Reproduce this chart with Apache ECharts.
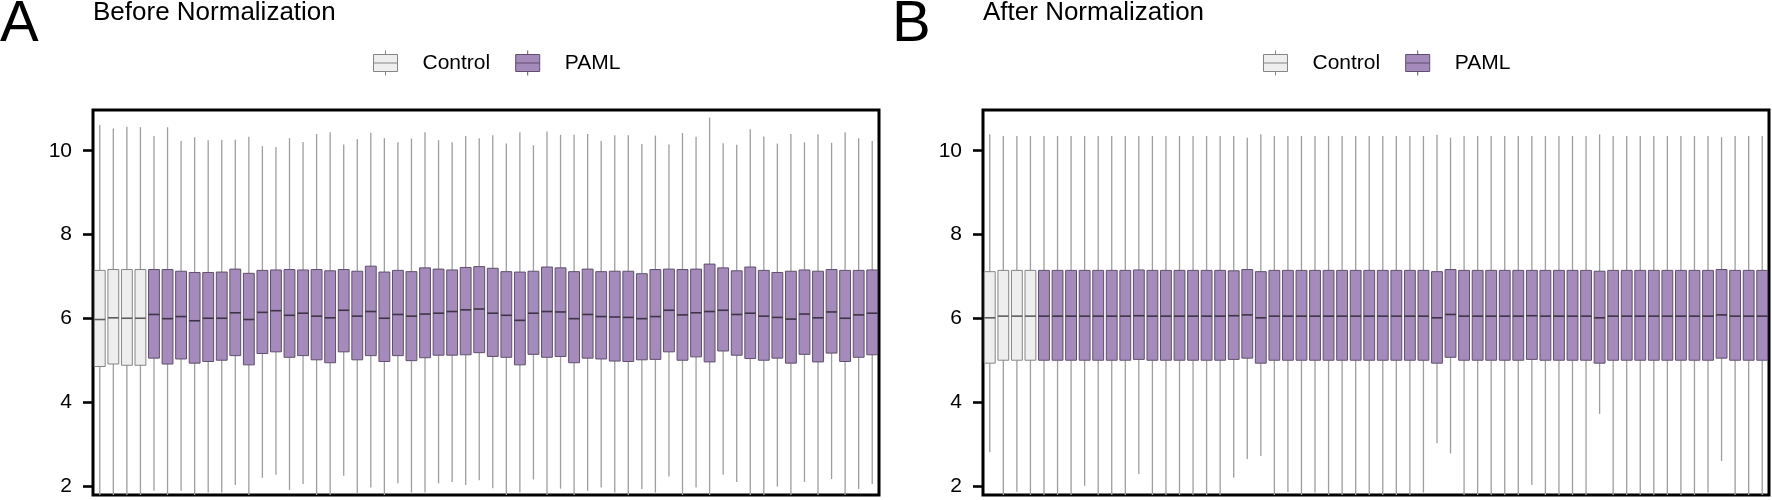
<!DOCTYPE html>
<html>
<head>
<meta charset="utf-8">
<script src="https://cdn.jsdelivr.net/npm/echarts/dist/echarts.min.js"></script>
<style>
html,body{margin:0;padding:0;background:#fff;}
#chart{width:1772px;height:500px;}
</style>
</head>
<body>
<div id="chart"></div>
<script>
// ---------- data ----------
const categories = [
  'C1','C2','C3','C4',
  'P1','P2','P3','P4','P5','P6','P7','P8','P9','P10',
  'P11','P12','P13','P14','P15','P16','P17','P18','P19','P20',
  'P21','P22','P23','P24','P25','P26','P27','P28','P29','P30',
  'P31','P32','P33','P34','P35','P36','P37','P38','P39','P40',
  'P41','P42','P43','P44','P45','P46','P47','P48','P49','P50',
  'P51','P52','P53','P54'
];
const groups = ['Control','Control','Control','Control',
  'PAML','PAML','PAML','PAML','PAML','PAML','PAML','PAML','PAML','PAML',
  'PAML','PAML','PAML','PAML','PAML','PAML','PAML','PAML','PAML','PAML',
  'PAML','PAML','PAML','PAML','PAML','PAML','PAML','PAML','PAML','PAML',
  'PAML','PAML','PAML','PAML','PAML','PAML','PAML','PAML','PAML','PAML',
  'PAML','PAML','PAML','PAML','PAML','PAML','PAML','PAML','PAML','PAML',
  'PAML','PAML','PAML','PAML'];
const yTicks = [2, 4, 6, 8, 10];

// Before normalization
const beforeHigh = [10.61,10.53,10.57,10.56,10.35,10.56,10.23,10.32,10.25,10.26,
  10.26,10.33,10.11,10.09,10.30,10.21,10.40,10.44,10.15,10.28,
  10.43,10.30,10.20,10.29,10.44,10.25,10.20,10.35,10.30,10.37,
  10.17,10.44,10.13,10.46,10.38,10.38,10.40,10.23,10.37,10.37,
  10.16,10.36,10.15,10.42,10.33,10.79,10.18,10.14,10.51,10.34,
  10.17,10.40,10.20,10.39,10.19,10.44,10.30,10.23];
const beforeQ3 = [7.15,7.17,7.17,7.17,7.17,7.17,7.13,7.10,7.10,7.11,
  7.18,7.08,7.15,7.16,7.17,7.16,7.17,7.14,7.17,7.13,
  7.25,7.11,7.15,7.12,7.21,7.18,7.16,7.22,7.24,7.20,
  7.12,7.11,7.13,7.23,7.21,7.12,7.18,7.12,7.13,7.13,
  7.07,7.17,7.18,7.17,7.18,7.30,7.21,7.14,7.23,7.15,
  7.10,7.13,7.16,7.13,7.17,7.15,7.15,7.16];
const beforeMed = [5.98,6.02,6.01,6.01,6.10,6.00,6.05,5.95,6.01,6.01,
  6.14,5.98,6.15,6.19,6.08,6.13,6.06,6.02,6.20,6.06,
  6.17,6.01,6.10,6.06,6.11,6.13,6.17,6.21,6.23,6.13,
  6.08,5.96,6.13,6.17,6.16,6.00,6.10,6.05,6.04,6.03,
  6.00,6.05,6.20,6.09,6.14,6.17,6.20,6.10,6.13,6.06,
  6.03,5.99,6.11,6.02,6.16,6.01,6.09,6.13];
const beforeQ1 = [4.86,4.92,4.89,4.89,5.06,4.92,5.04,4.94,4.98,5.01,
  5.12,4.90,5.17,5.21,5.08,5.12,5.02,4.95,5.21,5.02,
  5.12,4.98,5.12,5.00,5.07,5.13,5.13,5.14,5.19,5.10,
  5.08,4.90,5.15,5.08,5.10,4.95,5.06,5.04,4.99,4.98,
  5.02,5.03,5.21,5.01,5.09,4.97,5.23,5.13,5.05,5.01,
  5.06,4.94,5.15,4.97,5.18,4.98,5.08,5.14];
const beforeLow = [1.70,1.70,1.70,1.70,1.90,1.70,1.90,1.70,1.86,1.86,
  2.04,1.70,2.21,2.28,1.92,2.06,1.70,1.70,2.26,1.85,
  1.98,1.70,2.08,1.86,1.86,2.08,2.11,2.04,2.15,1.96,
  1.70,1.86,2.17,1.70,1.95,1.70,1.90,1.98,1.86,1.70,
  1.94,1.86,2.24,1.70,1.98,1.70,2.28,2.11,1.70,1.70,
  2.00,1.70,2.11,1.70,2.18,1.70,1.94,2.06];

// After normalization
const afterHigh = [10.39,10.35,10.35,10.35,10.35,10.35,10.35,10.35,10.35,10.35,
  10.35,10.35,10.35,10.35,10.35,10.35,10.35,10.35,10.35,10.31,
  10.39,10.35,10.35,10.35,10.35,10.35,10.35,10.35,10.35,10.35,
  10.35,10.35,10.35,10.38,10.31,10.35,10.35,10.35,10.35,10.35,
  10.35,10.35,10.35,10.35,10.35,10.39,10.35,10.35,10.35,10.35,
  10.35,10.35,10.35,10.35,10.32,10.35,10.35,10.35];
const afterQ3 = [7.12,7.15,7.15,7.15,7.15,7.15,7.15,7.15,7.15,7.15,
  7.15,7.16,7.15,7.15,7.15,7.15,7.15,7.15,7.14,7.17,
  7.12,7.15,7.15,7.15,7.15,7.15,7.15,7.15,7.15,7.15,
  7.15,7.15,7.15,7.12,7.17,7.15,7.15,7.15,7.15,7.15,
  7.15,7.15,7.15,7.15,7.15,7.13,7.15,7.15,7.15,7.15,
  7.15,7.15,7.15,7.15,7.17,7.15,7.15,7.15];
const afterMed = [6.02,6.06,6.06,6.06,6.06,6.06,6.06,6.06,6.06,6.06,
  6.06,6.07,6.06,6.06,6.06,6.06,6.06,6.06,6.07,6.09,
  6.02,6.06,6.06,6.06,6.06,6.06,6.06,6.06,6.06,6.06,
  6.06,6.06,6.06,6.02,6.10,6.06,6.06,6.06,6.06,6.06,
  6.07,6.06,6.06,6.06,6.06,6.02,6.06,6.06,6.06,6.06,
  6.06,6.06,6.06,6.06,6.09,6.06,6.06,6.06];
const afterQ1 = [4.94,5.01,5.01,5.01,5.01,5.01,5.01,5.01,5.01,5.01,
  5.01,5.03,5.01,5.01,5.01,5.01,5.01,5.01,5.03,5.06,
  4.94,5.01,5.01,5.01,5.01,5.01,5.01,5.01,5.01,5.01,
  5.01,5.01,5.01,4.94,5.08,5.01,5.01,5.01,5.01,5.01,
  5.03,5.01,5.01,5.01,5.01,4.94,5.01,5.01,5.01,5.01,
  5.01,5.01,5.01,5.01,5.06,5.01,5.01,5.01];
const afterLow = [2.82,1.70,1.88,1.70,1.70,1.70,1.70,2.02,1.70,1.70,
  1.70,2.30,1.70,1.70,1.70,1.70,1.70,1.70,2.21,2.66,
  2.73,1.70,1.87,1.70,1.86,1.70,1.70,1.70,1.70,1.70,
  1.70,1.70,1.86,3.03,2.79,1.70,1.70,1.70,1.70,1.70,
  2.04,1.70,1.70,1.70,1.70,3.73,1.70,1.70,1.70,1.70,
  1.70,1.70,1.70,1.86,2.61,1.70,1.70,1.70];

// ---------- styles ----------
const FONT = '"Liberation Sans", Arial, Helvetica, sans-serif';
const STYLE = {
  Control: { fill: '#EEEEEE', stroke: '#858585', median: '#5E5E5E' },
  PAML:    { fill: '#A58BBB', stroke: '#5F4F6C', median: '#3E3347' }
};
const WHISKER = '#9E9E9E';
const Y_MIN = 1.8, Y_MAX = 10.97;

function buildData(low, q1, med, q3, high, group) {
  const out = [];
  for (let i = 0; i < categories.length; i++) {
    if (groups[i] === group) out.push([i, low[i], q1[i], med[i], q3[i], high[i]]);
  }
  return out;
}

function makeRender(group) {
  const st = STYLE[group];
  return function (params, api) {
    const x = api.value(0);
    const cs = params.coordSys;
    const top = cs.y, bottom = cs.y + cs.height;
    const clampY = y => Math.max(top, Math.min(bottom, y));
    const pLow = api.coord([x, api.value(1)]);
    const pQ1 = api.coord([x, api.value(2)]);
    const pMed = api.coord([x, api.value(3)]);
    const pQ3 = api.coord([x, api.value(4)]);
    const pHigh = api.coord([x, api.value(5)]);
    const bw = api.size([1, 0])[0] * 0.8;
    const cx = pMed[0];
    return {
      type: 'group',
      children: [
        { type: 'line', shape: { x1: cx, y1: clampY(pLow[1]), x2: cx, y2: pQ1[1] },
          style: { stroke: WHISKER, lineWidth: 1.3 } },
        { type: 'line', shape: { x1: cx, y1: pQ3[1], x2: cx, y2: clampY(pHigh[1]) },
          style: { stroke: WHISKER, lineWidth: 1.3 } },
        { type: 'rect', shape: { x: cx - bw / 2, y: pQ3[1], width: bw, height: pQ1[1] - pQ3[1] },
          style: { fill: st.fill, stroke: st.stroke, lineWidth: 1 } },
        { type: 'line', shape: { x1: cx - bw / 2, y1: pMed[1], x2: cx + bw / 2, y2: pMed[1] },
          style: { stroke: st.median, lineWidth: 1.6 } }
      ]
    };
  };
}

const LEGEND_ICON = 'path://M0,4L24,4L24,21L0,21Z M12,0L12,4 M12,21L12,25 M0,12.5L24,12.5';

function legendFor(left) {
  return {
    left: left, top: 50, orient: 'horizontal',
    itemWidth: 24, itemHeight: 25, itemGap: 25,
    padding: 0,
    selectedMode: false,
    textStyle: { fontFamily: FONT, fontSize: 21, color: '#000', padding: [0, 0, 0, 20] },
    data: [
      { name: 'Control', icon: LEGEND_ICON,
        itemStyle: { color: STYLE.Control.fill, borderColor: STYLE.Control.stroke, borderWidth: 1 } },
      { name: 'PAML', icon: LEGEND_ICON,
        itemStyle: { color: STYLE.PAML.fill, borderColor: STYLE.PAML.stroke, borderWidth: 1 } }
    ]
  };
}

function yAxisFor(gridIndex) {
  return {
    type: 'value', gridIndex: gridIndex, min: Y_MIN, max: Y_MAX,
    axisLine: { show: false },
    splitLine: { show: false },
    axisTick: { show: true, inside: false, length: 10, customValues: yTicks,
      lineStyle: { color: '#000', width: 2.6 } },
    axisLabel: { show: true, customValues: yTicks, margin: 21,
      fontFamily: FONT, fontSize: 21, color: '#000' }
  };
}

function xAxisFor(gridIndex) {
  return {
    type: 'category', gridIndex: gridIndex, data: categories, boundaryGap: true,
    axisLine: { show: false }, axisTick: { show: false }, axisLabel: { show: false },
    splitLine: { show: false }
  };
}

function seriesFor(idx, low, q1, med, q3, high) {
  return ['Control', 'PAML'].map(g => ({
    type: 'custom', name: g, xAxisIndex: idx, yAxisIndex: idx,
    renderItem: makeRender(g),
    encode: { x: 0, y: [1, 2, 3, 4, 5] },
    itemStyle: { color: STYLE[g].fill, borderColor: STYLE[g].stroke },
    data: buildData(low, q1, med, q3, high, g),
    silent: true,
    animation: false
  }));
}

const chart = echarts.init(document.getElementById('chart'), null, { renderer: 'canvas' });
chart.setOption({
  animation: false,
  backgroundColor: '#fff',
  title: [
    { text: 'A', left: 0, top: -4, padding: 0,
      textStyle: { fontFamily: FONT, fontSize: 58, fontWeight: 'normal', color: '#000' } },
    { text: 'Before Normalization', left: 93, top: 0, padding: 0,
      textStyle: { fontFamily: FONT, fontSize: 26, fontWeight: 'normal', color: '#000' } },
    { text: 'B', left: 892, top: -4, padding: 0,
      textStyle: { fontFamily: FONT, fontSize: 58, fontWeight: 'normal', color: '#000' } },
    { text: 'After Normalization', left: 983, top: 0, padding: 0,
      textStyle: { fontFamily: FONT, fontSize: 26, fontWeight: 'normal', color: '#000' } }
  ],
  legend: [legendFor(373), legendFor(1263)],
  grid: [
    { left: 93, top: 110, width: 786, height: 385, show: true,
      borderColor: '#000', borderWidth: 3, backgroundColor: 'transparent', containLabel: false },
    { left: 983, top: 110, width: 786, height: 385, show: true,
      borderColor: '#000', borderWidth: 3, backgroundColor: 'transparent', containLabel: false }
  ],
  xAxis: [xAxisFor(0), xAxisFor(1)],
  yAxis: [yAxisFor(0), yAxisFor(1)],
  series: [
    ...seriesFor(0, beforeLow, beforeQ1, beforeMed, beforeQ3, beforeHigh),
    ...seriesFor(1, afterLow, afterQ1, afterMed, afterQ3, afterHigh)
  ]
});
</script>
</body>
</html>
